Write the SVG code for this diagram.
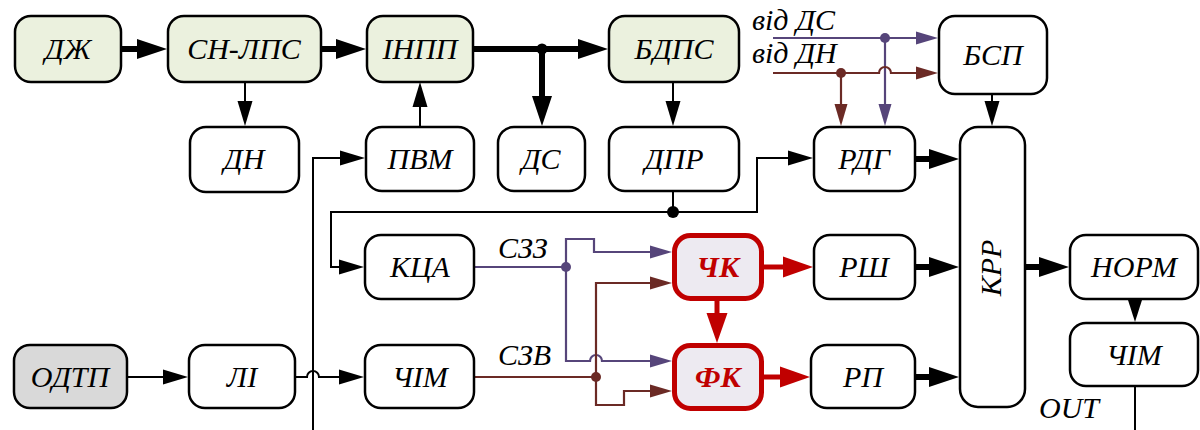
<svg xmlns="http://www.w3.org/2000/svg" width="1200" height="430" viewBox="0 0 1200 430">
<defs>
<style>
.n{fill:#fff;stroke:#000;stroke-width:2.5}
.g{fill:#EBF1DE}
.gr{fill:#D9D9D9}
.r{fill:#EDEAF1;stroke:#C00000;stroke-width:5}
.t{font-family:"Liberation Serif","Times New Roman",serif;font-style:italic;font-size:30px;fill:#000;text-anchor:middle}
.tr{font-family:"Liberation Serif","Times New Roman",serif;font-style:italic;font-weight:bold;font-size:30px;fill:#C00000;text-anchor:middle}
.l{font-family:"Liberation Serif","Times New Roman",serif;font-style:italic;font-size:30px;fill:#000}
.k{fill:none;stroke:#000;stroke-width:2}
.kt{fill:none;stroke:#000;stroke-width:6;stroke-linecap:round}
.rd{fill:none;stroke:#C00000;stroke-width:5}
.p{fill:none;stroke:#56457A;stroke-width:2.2}
.b{fill:none;stroke:#6B2A25;stroke-width:2.2}
</style>
<marker id="aT" markerUnits="userSpaceOnUse" markerWidth="30" markerHeight="20" refX="0" refY="10" orient="auto" overflow="visible"><path d="M0,0 L30,10 L0,20 z" fill="#000"/></marker>
<marker id="aK" markerUnits="userSpaceOnUse" markerWidth="25" markerHeight="15" refX="0" refY="7.5" orient="auto" overflow="visible"><path d="M0,0 L25,7.5 L0,15 z" fill="#000"/></marker>
<marker id="aR" markerUnits="userSpaceOnUse" markerWidth="30" markerHeight="21" refX="0" refY="10.5" orient="auto" overflow="visible"><path d="M0,0 L30,10.5 L0,21 z" fill="#C00000"/></marker>
<marker id="aP" markerUnits="userSpaceOnUse" markerWidth="22" markerHeight="13" refX="0" refY="6.5" orient="auto" overflow="visible"><path d="M0,0 L22,6.5 L0,13 z" fill="#56457A"/></marker>
<marker id="aB" markerUnits="userSpaceOnUse" markerWidth="22" markerHeight="13" refX="0" refY="6.5" orient="auto" overflow="visible"><path d="M0,0 L22,6.5 L0,13 z" fill="#6B2A25"/></marker>
</defs>

<g id="connectors">
<path class="kt" d="M122,49 H137" marker-end="url(#aT)"/>
<path class="kt" d="M322,49 H336" marker-end="url(#aT)"/>
<path class="kt" d="M474,49 H578" marker-end="url(#aT)"/>
<path class="kt" d="M542,49 V96" marker-end="url(#aT)"/>
<circle cx="542" cy="49" r="5.5" fill="#000"/>
<path class="kt" d="M916,159 H929" marker-end="url(#aT)"/>
<path class="kt" d="M916,267 H929" marker-end="url(#aT)"/>
<path class="kt" d="M916,377 H929" marker-end="url(#aT)"/>
<path class="kt" d="M1026,267 H1039" marker-end="url(#aT)"/>

<path class="rd" d="M764,267 H783" marker-end="url(#aR)"/>
<path class="rd" d="M764,377 H780" marker-end="url(#aR)"/>
<path class="rd" d="M717,301 V313" marker-end="url(#aR)"/>

<path class="k" d="M245,82 V101" marker-end="url(#aK)"/>
<path class="k" d="M420,126 V107" marker-end="url(#aK)"/>
<path class="k" d="M673,82 V101" marker-end="url(#aK)"/>
<path class="k" d="M992,95 V101" marker-end="url(#aK)"/>
<path class="k" d="M673,192 V212"/>
<path class="k" d="M673,212 H757 V158 H788" marker-end="url(#aK)"/>
<path class="k" d="M673,212 H331 V267 H339" marker-end="url(#aK)"/>
<circle cx="673" cy="212" r="6" fill="#000"/>
<path class="k" d="M313,430 V158 H340" marker-end="url(#aK)"/>
<path class="k" d="M128,377 H163" marker-end="url(#aK)"/>
<path class="k" d="M296,377 H307 A6,6 0 0 1 319,377 H339" marker-end="url(#aK)"/>
<polygon points="1128,300 1142,300 1135,322" fill="#000"/>
<path class="k" d="M1135,387 V430"/>

<path class="p" d="M475,267 H566"/>
<path class="p" d="M566,267 V239 H594 V252 H650" marker-end="url(#aP)"/>
<path class="p" d="M566,267 V361 H590 A6,6 0 0 1 602,361 H650" marker-end="url(#aP)"/>
<circle cx="566" cy="267" r="5" fill="#56457A"/>
<path class="p" d="M773,38 H916" marker-end="url(#aP)"/>
<path class="p" d="M885,38 V104" marker-end="url(#aP)"/>
<circle cx="885" cy="38" r="5" fill="#56457A"/>

<path class="b" d="M475,377 H596"/>
<path class="b" d="M596,377 V283 H650" marker-end="url(#aB)"/>
<path class="b" d="M596,377 V405 H624 V391 H650" marker-end="url(#aB)"/>
<circle cx="596" cy="377" r="5" fill="#6B2A25"/>
<path class="b" d="M773,73 H879 A6,6 0 0 1 891,73 H916" marker-end="url(#aB)"/>
<path class="b" d="M841,73 V104" marker-end="url(#aB)"/>
<circle cx="841" cy="73" r="5" fill="#6B2A25"/>

<text class="l" x="498" y="258">СЗЗ</text>
<text class="l" x="498" y="365">СЗВ</text>
<text class="l" x="752" y="30" font-size="29">від ДС</text>
<text class="l" x="752" y="63" font-size="29">від ДН</text>
<text class="l" x="1039" y="418" font-size="29">OUT</text>
</g>

<g id="n-dzh"><rect class="n g" x="15" y="16" width="106" height="66" rx="16"/><text class="t" x="68" y="59">ДЖ</text></g>
<g id="n-snlps"><rect class="n g" x="168" y="16" width="153" height="66" rx="16"/><text class="t" x="244" y="59">СН-ЛПС</text></g>
<g id="n-innp"><rect class="n g" x="367" y="16" width="106" height="66" rx="16"/><text class="t" x="420" y="59">ІНПП</text></g>
<g id="n-bdps"><rect class="n g" x="609" y="16" width="130" height="66" rx="16"/><text class="t" x="674" y="59">БДПС</text></g>
<g id="n-bsp"><rect class="n" x="939" y="16" width="108" height="78" rx="16"/><text class="t" x="993" y="65">БСП</text></g>

<g id="n-dn"><rect class="n" x="190" y="127" width="109" height="65" rx="16"/><text class="t" x="244" y="169">ДН</text></g>
<g id="n-pvm"><rect class="n" x="366" y="127" width="108" height="64" rx="16"/><text class="t" x="420" y="169">ПВМ</text></g>
<g id="n-ds"><rect class="n" x="498" y="127" width="87" height="64" rx="16"/><text class="t" x="541" y="169">ДС</text></g>
<g id="n-dpr"><rect class="n" x="609" y="127" width="130" height="64" rx="16"/><text class="t" x="674" y="169">ДПР</text></g>
<g id="n-rdg"><rect class="n" x="814" y="127" width="101" height="64" rx="16"/><text class="t" x="864" y="169">РДГ</text></g>
<g id="n-krr"><rect class="n" x="960" y="127" width="65" height="280" rx="18"/><text class="t" transform="translate(1001,268) rotate(-90)">КРР</text></g>

<g id="n-kca"><rect class="n" x="365" y="235" width="109" height="64" rx="16"/><text class="t" x="420" y="277">КЦА</text></g>
<g id="n-chk"><rect class="r" x="674.5" y="235.5" width="87" height="63" rx="16"/><text class="tr" x="718" y="277">ЧК</text></g>
<g id="n-rsh"><rect class="n" x="814" y="235" width="101" height="64" rx="16"/><text class="t" x="864" y="277">РШ</text></g>
<g id="n-norm"><rect class="n" x="1070" y="235" width="128" height="64" rx="16"/><text class="t" x="1134" y="277">НОРМ</text></g>

<g id="n-odtp"><rect class="n gr" x="14" y="345" width="113" height="63" rx="16"/><text class="t" x="70" y="387">ОДТП</text></g>
<g id="n-li"><rect class="n" x="189" y="345" width="106" height="63" rx="16"/><text class="t" x="242" y="387">ЛІ</text></g>
<g id="n-chim"><rect class="n" x="365" y="345" width="109" height="63" rx="16"/><text class="t" x="420" y="387">ЧІМ</text></g>
<g id="n-fk"><rect class="r" x="674.5" y="345.5" width="87" height="63" rx="16"/><text class="tr" x="718" y="387">ФК</text></g>
<g id="n-rp"><rect class="n" x="811" y="345" width="104" height="63" rx="16"/><text class="t" x="863" y="387">РП</text></g>
<g id="n-chim2"><rect class="n" x="1070" y="323" width="128" height="63" rx="16"/><text class="t" x="1134" y="365">ЧІМ</text></g>
</svg>
